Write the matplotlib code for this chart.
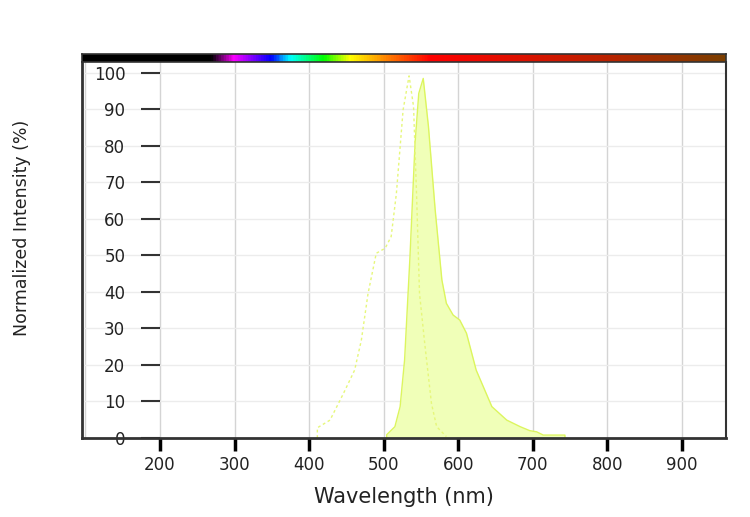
import numpy as np
import matplotlib
matplotlib.use("Agg")
import matplotlib.pyplot as plt
from matplotlib.colors import LinearSegmentedColormap

# excitation spectrum (dotted)
ex_nm = [411, 411, 428, 446, 461, 470, 479, 490, 502, 510, 517, 526, 534, 540,
         544, 548, 555, 564, 571, 584]
ex_val = [0, 2.8, 4.9, 12.2, 18.6, 26.8, 39.6, 50.6, 52.0, 55.2, 67.0, 89.9,
          99.2, 90.8, 67.0, 39.6, 25.9, 9.5, 3.1, 0.4]

# emission spectrum (filled)
em_nm = [504, 504, 515, 522, 528, 535, 542, 547, 553, 560, 569, 578, 584, 593,
         602, 611, 624, 645, 665, 683, 696, 705, 714, 743, 743]
em_val = [0, 0.9, 3.1, 8.6, 21.4, 48.8, 80.7, 94.4, 98.5, 85.3, 62.5, 43.3,
          36.9, 33.7, 32.3, 28.7, 18.6, 8.6, 4.9, 3.1, 2.0, 1.7, 0.8, 0.8, 0]

xticks = [200, 300, 400, 500, 600, 700, 800, 900]
yticks = [0, 10, 20, 30, 40, 50, 60, 70, 80, 90, 100]

fig = plt.figure(figsize=(7.5, 5.17), dpi=100)
ax = fig.add_axes([82/750, 1-438/517, 644/750, 376/517])
bar = fig.add_axes([82/750, 1-62/517, 644/750, 8/517])

# spectrum colour bar on top
cmap = LinearSegmentedColormap.from_list("spec", [
    (0.0, "#000000"), (0.199, "#000000"), (0.234, "#ff00ff"),
    (0.292, "#0000ff"), (0.323, "#00ffff"), (0.374, "#00ff00"),
    (0.416, "#ffff00"), (0.474, "#ff8000"), (0.54, "#ff0000"),
    (0.8, "#c02000"), (1.0, "#7b3f00")])
bar.imshow(np.linspace(0, 1, 500)[None, :], aspect="auto", cmap=cmap)
bar.set_xticks([])
bar.set_yticks([])
for s in bar.spines.values():
    s.set_color("#333333")
    s.set_linewidth(1.2)

ax.fill_between(em_nm, em_val, color="#f0ffb8", lw=0)
ax.plot(em_nm, em_val, color="#dcf55e", lw=1.0)
ax.plot(ex_nm, ex_val, color="#e6f77a", lw=1.0, ls=(0, (2, 2)))

ax.set_xlim(95.4, 959)
ax.set_ylim(0, 103)
ax.set_xticks(xticks)
ax.set_yticks(yticks)
for x in range(100, 1000, 100):
    ax.axvline(x, color="#d4d4d4", lw=1, zorder=0)
for y in yticks[1:]:
    ax.axhline(y, color="#ececec", lw=1, zorder=0)

# y axis sits at 200 nm, frame line drawn separately
ax.spines["left"].set_position(("data", 200))
ax.spines["left"].set_visible(False)
ax.axvline(95.4, color="#333333", lw=2, clip_on=False)
ax.spines["top"].set_visible(False)
ax.spines["right"].set_color("#333333")
ax.spines["right"].set_linewidth(1.5)
ax.spines["bottom"].set_color("#333333")
ax.spines["bottom"].set_linewidth(2)

ax.tick_params(axis="y", length=14, width=1.5, color="#333333", pad=11,
               labelsize=12, labelcolor="#222222")
ax.tick_params(axis="x", length=9, width=2.5, color="black", pad=4,
               labelsize=12, labelcolor="#222222")

ax.set_xlabel("Wavelength (nm)", fontsize=15, color="#222222", labelpad=9)
fig.text(22/750, 1-228/517, "Normalized Intensity (%)", rotation=90,
         ha="center", va="center", fontsize=12.5, color="#222222")

fig.savefig("out.png", dpi=100)
